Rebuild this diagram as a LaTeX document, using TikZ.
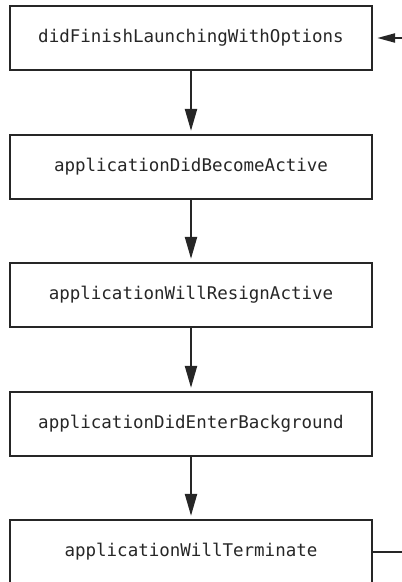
\documentclass[tikz,border=0pt]{standalone}
\usepackage{fontspec}
\setmonofont{DejaVu Sans Mono}
\usetikzlibrary{arrows.meta}
\begin{document}
\begin{tikzpicture}[x=1pt,y=1pt,
  stepbox/.style={draw=black!85, line width=2.3pt, minimum width=362pt, minimum height=64pt, inner sep=0pt, font=\ttfamily\fontsize{17.5}{20}\selectfont, text=black!85},
  flow/.style={draw=black!85, line width=2.2pt, -{Triangle[length=22pt,width=12pt]}, shorten >=3pt},
  back/.style={draw=black!85, line width=2.2pt, -{Triangle[length=18pt,width=9pt]}, shorten >=4pt}]
\useasboundingbox (0,0) rectangle (402,582);
\clip (0,0) rectangle (402,582);
\node[stepbox] (b1) at (191,544) {didFinishLaunchingWithOptions};
\node[stepbox] (b2) at (191,415) {applicationDidBecomeActive};
\node[stepbox] (b3) at (191,287) {applicationWillResignActive};
\node[stepbox] (b4) at (191,158) {applicationDidEnterBackground};
\node[stepbox] (b5) at (191,30) {applicationWillTerminate};
\coordinate (r1) at (403,544);
\coordinate (r5) at (403,30);
\draw[flow] (b1) -- (b2);
\draw[flow] (b2) -- (b3);
\draw[flow] (b3) -- (b4);
\draw[flow] (b4) -- (b5);
\draw[back] (r1) -- (b1);
\draw[draw=black!85, line width=2.2pt] (b5) -- (r5);
\end{tikzpicture}
\end{document}
